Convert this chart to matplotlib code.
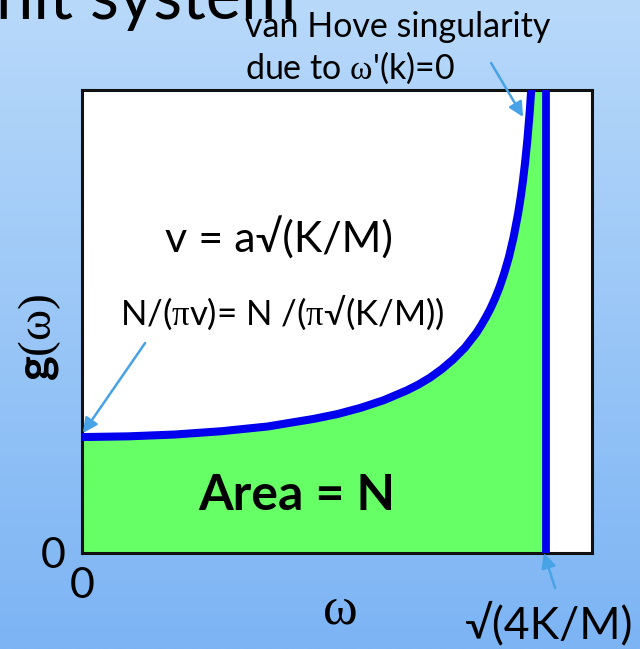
import numpy as np
import matplotlib.pyplot as plt

# g(omega) for the 1D monatomic chain (K/M = 1, N = 1)
omega = [0.0, 0.2, 0.4, 0.6, 0.8, 1.0, 1.1, 1.2, 1.3, 1.4, 1.45, 1.5, 1.55,
         1.6, 1.65, 1.7, 1.72, 1.74, 1.76, 1.78, 1.8, 1.82, 1.84, 1.86, 1.88,
         1.89, 1.9, 1.91, 1.92, 1.93, 1.94, 1.95, 1.96]
g = [0.318, 0.320, 0.325, 0.334, 0.347, 0.368, 0.381, 0.398, 0.419, 0.446,
     0.462, 0.481, 0.504, 0.531, 0.563, 0.604, 0.624, 0.646, 0.670, 0.698,
     0.730, 0.768, 0.812, 0.866, 0.933, 0.973, 1.019, 1.073, 1.137, 1.214,
     1.309, 1.433, 1.600]
omega_max = 2.0          # sqrt(4K/M)
x_ticks = [0]
y_ticks = [0]
tick_labels = ['0']

plt.rcParams['font.family'] = ['Lato', 'Liberation Serif', 'DejaVu Sans']
plt.rcParams['mathtext.fontset'] = 'custom'
plt.rcParams['mathtext.rm'] = 'Lato'
plt.rcParams['mathtext.bf'] = 'Lato:bold'
plt.rcParams['mathtext.sf'] = 'Liberation Serif'

W, H = 640, 649
fig = plt.figure(figsize=(W / 100, H / 100), dpi=100)

# slide background gradient
bg = fig.add_axes([0, 0, 1, 1], zorder=-2)
grad = np.linspace(0, 1, 256)[:, None]
top = np.array([184, 217, 250]) / 255
bot = np.array([124, 180, 244]) / 255
img = top[None, None, :] * (1 - grad[..., None]) + bot[None, None, :] * grad[..., None]
bg.imshow(img, aspect='auto', extent=[0, 1, 0, 1])
bg.axis('off')

def fx(px):
    return px / W

def fy(py):
    return 1 - py / H

ax = fig.add_axes([fx(82), fy(553), fx(592) - fx(82), fy(90) - fy(553)])
ax.set_facecolor('white')
ax.set_xlim(0, 2.198)
ax.set_ylim(0, 1.27)

blue = '#0000ee'
green = '#66ff66'
ylim_top = ax.get_ylim()[1]
ax.fill_between(np.append(omega, omega_max), np.append(g, ylim_top),
                color=green, lw=0, zorder=1)
ax.plot(omega, g, color=blue, lw=5.8, solid_capstyle='butt',
        solid_joinstyle='round', zorder=3)
ax.plot([omega_max, omega_max], [0, ylim_top], color=blue, lw=5.6,
        solid_capstyle='butt', zorder=3)

for s in ax.spines.values():
    s.set_linewidth(2.2)
    s.set_color('#111111')
ax.set_xticks(x_ticks, tick_labels)
ax.set_yticks(y_ticks, tick_labels)
ax.tick_params(length=0, labelsize=31)
ax.tick_params(axis='x', pad=10)
ax.tick_params(axis='y', pad=12)

# texts inside the plot
ax.text(0.849, 0.823, r'v = a√(K/M)', fontsize=31, ha='center',
        va='baseline')
ax.text(0.864, 0.625, r'N/($\mathsf{\pi}$v)= N /($\mathsf{\pi}$√(K/M))',
        fontsize=25, ha='center', va='baseline')
ax.text(0.927, 0.118, 'Area = N', fontsize=36, fontweight='bold',
        ha='center', va='baseline')

arrow = dict(arrowstyle='-|>', color='#47a2e6', lw=1.8, mutation_scale=22,
             shrinkA=0, shrinkB=0)
ax.annotate('', xy=(0.004, 0.329), xytext=(0.272, 0.576), arrowprops=arrow,
            annotation_clip=False)
ax.annotate('', xy=(1.901, 1.196), xytext=(1.763, 1.344), arrowprops=arrow,
            annotation_clip=False)
ax.annotate('', xy=(1.991, 0.0), xytext=(2.039, -0.096), arrowprops=arrow,
            annotation_clip=False)

# outside texts
fig.text(fx(-4), fy(19), 'nit system', fontsize=48, va='baseline', ha='left')
fig.text(fx(245), fy(37), 'van Hove singularity', fontsize=24.5,
         va='baseline')
fig.text(fx(245), fy(79), r"due to $\mathsf{\omega}$'(k)=0", fontsize=24.5,
         va='baseline')
fig.text(fx(340), fy(611), 'ω', fontsize=38, ha='center', va='center',
         family='Liberation Serif')
fig.text(fx(548), fy(638), '√(4K/M)', fontsize=32, ha='center',
         va='baseline')
fig.text(fx(40), fy(337), r'$\mathbf{g}\mathsf{(\omega)}$', fontsize=34,
         rotation=90, ha='center', va='center')

fig.savefig('out.png', dpi=100)
